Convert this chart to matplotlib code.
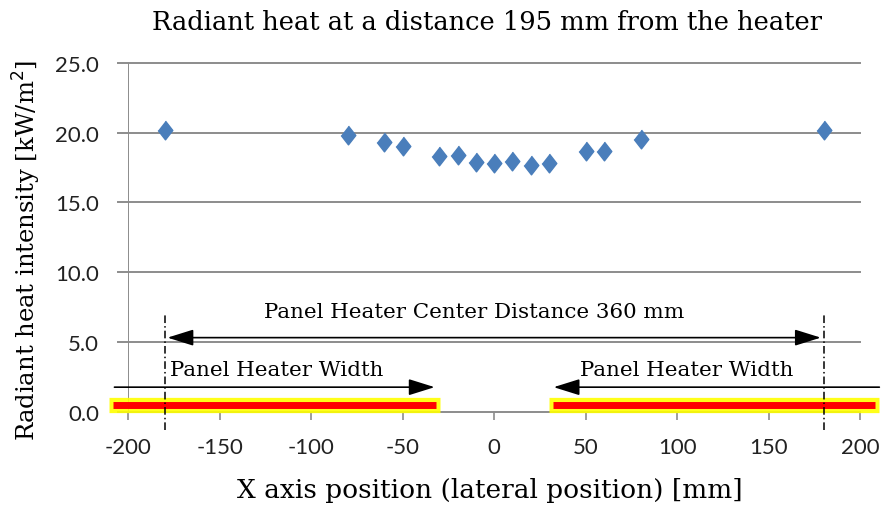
import numpy as np
import matplotlib.pyplot as plt
from matplotlib.patches import FancyArrowPatch

# measured positions [mm] and radiant heat [kW/m2]
x_pos = [-180, -80, -60, -50, -30, -20, -10, 0, 10, 20, 30, 50, 60, 80, 180]
heat = [20.2, 19.8, 19.3, 19.0, 18.3, 18.4, 17.9, 17.8, 17.95, 17.7, 17.85, 18.7, 18.65, 19.5, 20.2]

x_ticks = [-200, -150, -100, -50, 0, 50, 100, 150, 200]
y_ticks = [0, 5, 10, 15, 20, 25]

# heater panels (schematic)
heater_left = [-208, -32]
heater_right = [32, 208]
heater_centers = [-180, 180]

serif = 'DejaVu Serif'
sans = 'Lato'
plt.rcParams['axes.unicode_minus'] = False

fig = plt.figure(figsize=(8.96, 5.1), dpi=100)
ax = fig.add_axes([0.143, 0.191, 0.817, 0.684])
ax.set_xlim(-200, 200)
ax.set_ylim(0, 25)

# gridlines (Excel style, with outward ticks on the y axis)
for y in y_ticks:
    ax.plot([-205.5, 200], [y, y], color='#8c8c8c', lw=1.4, clip_on=False, zorder=1)
ax.plot([-200, -200], [0, 25], color='#8c8c8c', lw=1.4, zorder=1)
for s in ax.spines.values():
    s.set_visible(False)

ax.set_xticks(x_ticks)
ax.set_yticks(y_ticks)
ax.set_yticklabels(['%.1f' % v for v in y_ticks])
ax.tick_params(axis='y', length=0, pad=21, labelsize=16, colors='#222222')
ax.tick_params(axis='x', direction='out', length=6, width=1.2, color='#8c8c8c',
               pad=12, labelsize=16, labelcolor='#222222')
for lab in ax.get_xticklabels() + ax.get_yticklabels():
    lab.set_fontfamily(sans)

# heater bars
for seg in (heater_left, heater_right):
    ax.plot([seg[0] - 2.2, seg[1] + 2.2], [0.45, 0.45], color='#ffff00', lw=11,
            solid_capstyle='butt', clip_on=False, zorder=3, alpha=0.9)
    ax.plot(seg, [0.45, 0.45], color='#ff0000', lw=5, solid_capstyle='butt',
            clip_on=False, zorder=4)

# center distance marks
for xc in heater_centers:
    ax.plot([xc, xc], [-1.3, 7.1], color='black', lw=1.1, ls=(0, (5, 2, 1, 2)),
            clip_on=False, zorder=5)

arr = dict(color='black', lw=1.2, mutation_scale=1, clip_on=False, zorder=6)
ax.add_patch(FancyArrowPatch((heater_centers[0], 5.3), (heater_centers[1], 5.3),
                             arrowstyle='<|-|>,head_length=16,head_width=5', **arr))
ax.add_patch(FancyArrowPatch((-209, 1.75), (-31, 1.75),
                             arrowstyle='-|>,head_length=16,head_width=5', **arr))
ax.add_patch(FancyArrowPatch((212, 1.75), (31, 1.75),
                             arrowstyle='-|>,head_length=16,head_width=5', **arr))

ax.text(-11, 7.2, 'Panel Heater Center Distance 360 mm', ha='center', va='center',
        fontsize=15.4, family=serif)
ax.text(-177, 3.0, 'Panel Heater Width', ha='left', va='center', fontsize=15.4, family=serif)
ax.text(47, 3.0, 'Panel Heater Width', ha='left', va='center', fontsize=15.4, family=serif)

# data
ax.plot(x_pos, heat, ls='none', marker=[(0, 1), (0.78, 0), (0, -1), (-0.78, 0)],
        markersize=13.5, color='#4a7ebb', zorder=7, clip_on=False)

fig.text(0.544, 0.955, 'Radiant heat at a distance 195 mm from the heater', ha='center',
         va='center', fontsize=18.5, family=serif)
fig.text(0.547, 0.038, 'X axis position (lateral position) [mm]', ha='center',
         va='center', fontsize=19, family=serif)
fig.text(0.030, 0.51, 'Radiant heat intensity [kW/m$^2$]', ha='center', va='center',
         rotation=90, fontsize=17.5, family=serif)

fig.savefig('out.png', dpi=100)
